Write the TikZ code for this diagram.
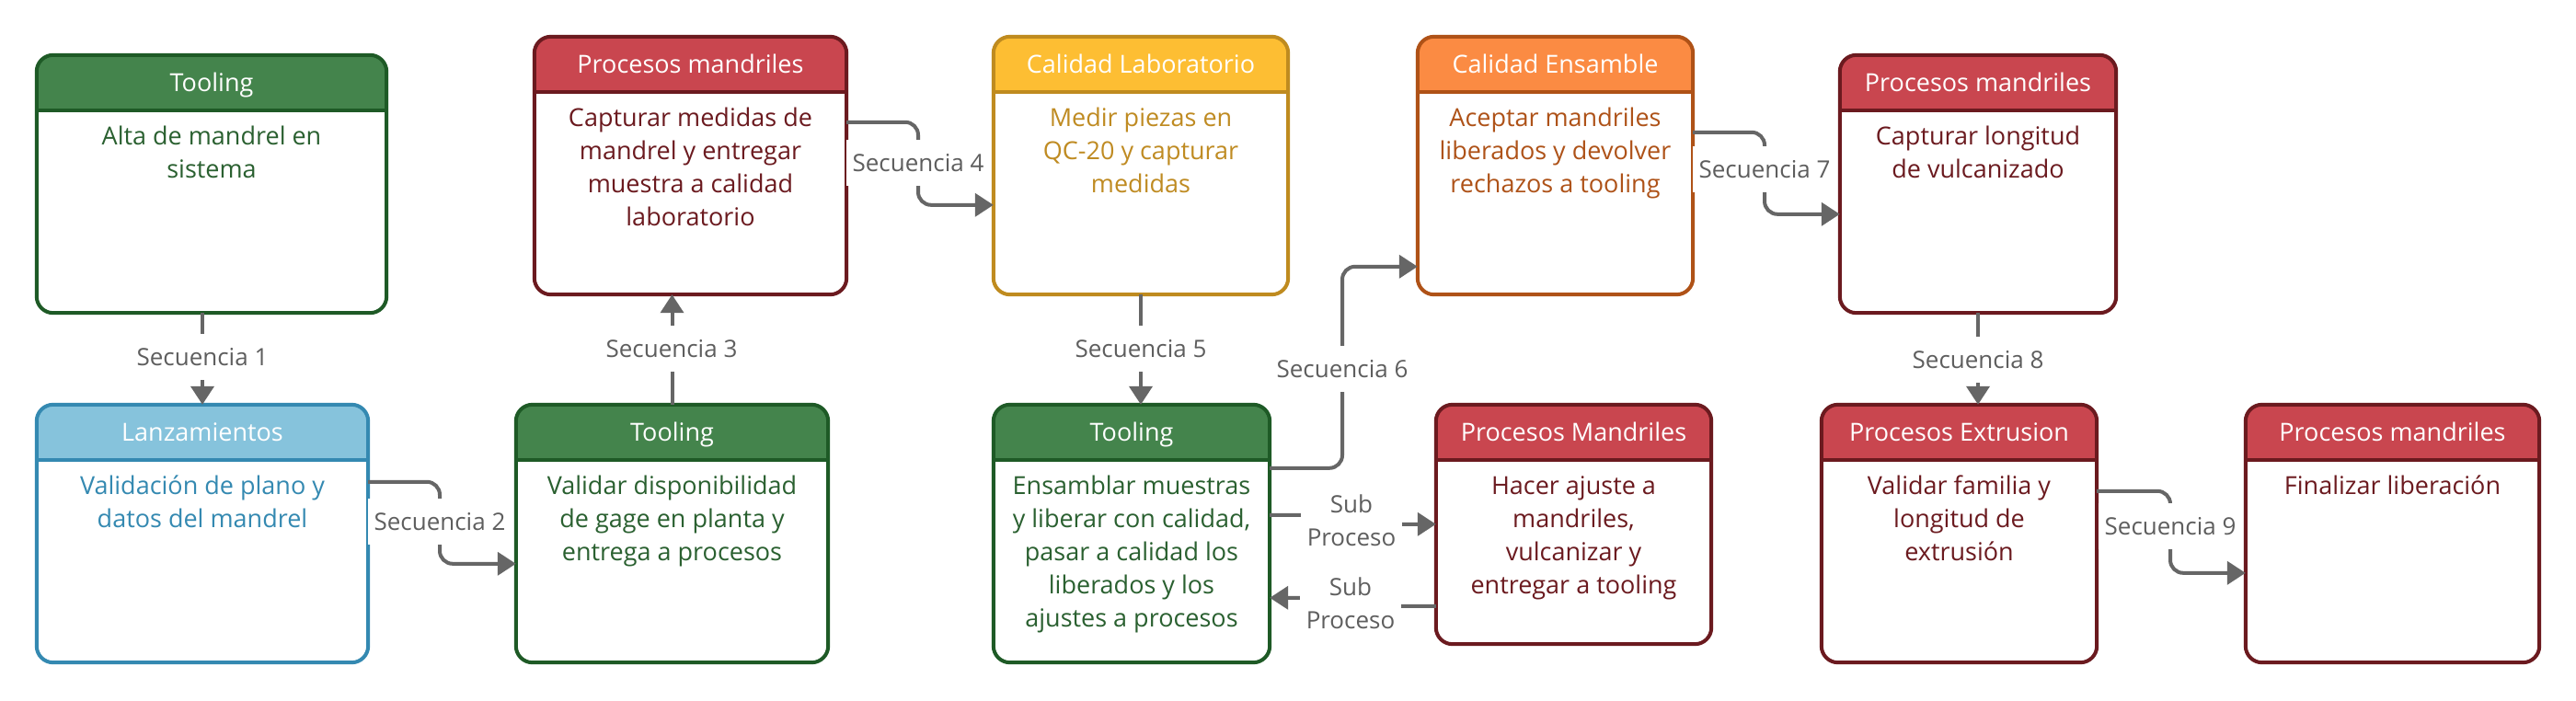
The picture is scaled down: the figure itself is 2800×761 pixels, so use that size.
\documentclass[tikz,border=0pt]{standalone}
\usepackage{fontspec}
\setmainfont{Open Sans}
\usetikzlibrary{arrows.meta,fit,calc}
\definecolor{grhd}{HTML}{44844C}\definecolor{grbd}{HTML}{1E5A26}\definecolor{grtx}{HTML}{2A6030}
\definecolor{rdhd}{HTML}{C9464F}\definecolor{rdbd}{HTML}{6B1A1F}\definecolor{rdtx}{HTML}{6B1A1F}
\definecolor{blhd}{HTML}{86C3DC}\definecolor{blbd}{HTML}{3489B1}\definecolor{bltx}{HTML}{3489B1}
\definecolor{ylhd}{HTML}{FDBE33}\definecolor{ylbd}{HTML}{BF8B1F}\definecolor{yltx}{HTML}{BF8B22}
\definecolor{orhd}{HTML}{FB8B43}\definecolor{orbd}{HTML}{AF5217}\definecolor{ortx}{HTML}{AE5218}
\definecolor{cgray}{HTML}{666666}\definecolor{lblgray}{HTML}{5E5E5E}
\tikzset{
  hdtext/.style={text=white, font=\fontsize{27pt}{36pt}\selectfont, inner sep=0pt},
  bdtext/.style={font=\fontsize{27pt}{36pt}\selectfont, align=center, inner sep=0pt},
  flow/.style={draw=cgray, line width=4pt, rounded corners=14pt, -{Triangle[length=20pt,width=25pt]}},
  lbl/.style={fill=white, text=lblgray, font=\fontsize{26pt}{36pt}\selectfont, align=center, inner xsep=7pt, inner ysep=15pt}
}
\newcommand\pbox[8]{%
  \node[fit={(#2,#3) (#4,#5)}, inner sep=0pt] (#1) {};
  \fill[white, rounded corners=18pt] (#1.south west) rectangle (#1.north east);
  \begin{scope}
    \clip[rounded corners=18pt] (#1.south west) rectangle (#1.north east);
    \fill[#6hd] (#1.north west) rectangle ([yshift=-60pt]#1.north east);
  \end{scope}
  \draw[#6bd, line width=4pt] ([yshift=-60pt]#1.north west) -- ([yshift=-60pt]#1.north east);
  \draw[#6bd, line width=4pt, rounded corners=18pt] (#1.south west) rectangle (#1.north east);
  \node[hdtext, anchor=base] (#1-h) at ([yshift=-40pt]#1.north) {#7};
  \node[bdtext, text=#6tx, anchor=north] (#1-b) at ([yshift=-72pt]#1.north) {\strut #8};
}
\begin{document}
\begin{tikzpicture}[x=1pt, y=-1pt]
\fill[white] (0,0) rectangle (2800,761);
\useasboundingbox (0,0) rectangle (2800,761);

\pbox{b1}{40}{60}{420}{340}{gr}{Tooling}{Alta de mandrel en\\sistema}
\pbox{b2}{581}{40}{920}{320}{rd}{Procesos mandriles}{Capturar medidas de\\mandrel y entregar\\muestra a calidad\\laboratorio}
\pbox{b3}{40}{440}{400}{720}{bl}{Lanzamientos}{Validación de plano y\\datos del mandrel}
\pbox{b4}{561}{440}{900}{720}{gr}{Tooling}{Validar disponibilidad\\de gage en planta y\\entrega a procesos}
\pbox{b5}{1080}{40}{1400}{320}{yl}{Calidad Laboratorio}{Medir piezas en\\QC-20 y capturar\\medidas}
\pbox{b6}{1541}{40}{1840}{320}{or}{Calidad Ensamble}{Aceptar mandriles\\liberados y devolver\\rechazos a tooling}
\pbox{b7}{1080}{440}{1380}{720}{gr}{Tooling}{Ensamblar muestras\\y liberar con calidad,\\pasar a calidad los\\liberados y los\\ajustes a procesos}
\pbox{b8}{1561}{440}{1860}{700}{rd}{Procesos Mandriles}{Hacer ajuste a\\mandriles,\\vulcanizar y\\entregar a tooling}
\pbox{b9}{2000}{60}{2300}{340}{rd}{Procesos mandriles}{Capturar longitud\\de vulcanizado}
\pbox{b10}{1980}{440}{2279}{720}{rd}{Procesos Extrusion}{Validar familia y\\longitud de\\extrusión}
\pbox{b11}{2441}{440}{2760}{720}{rd}{Procesos mandriles}{Finalizar liberación}

\coordinate (c1) at (220,388);
\coordinate (c2) at (478,567);
\coordinate (c3) at (730,379);
\coordinate (c4) at (998,177);
\coordinate (c5) at (1240,379);
\coordinate (c6) at (1459,401);
\coordinate (c7) at (1918,184);
\coordinate (c8) at (2150,391);
\coordinate (c9) at (2359,572);
\coordinate (cs1) at (1469,566);
\coordinate (cs2) at (1468,656);

\draw[flow] (b1.south -| b3.north) -- (b3.north);
\draw[flow] ([yshift=-84pt]b3.north east) -| (c2) |- ([yshift=-173pt]b4.north west);
\draw[flow] (b4.north) -- (b4.north |- b2.south);
\draw[flow] ([yshift=-93pt]b2.north east) -| (c4) |- ([yshift=-183pt]b5.north west);
\draw[flow] (b5.south) -- (b5.south |- b7.north);
\draw[flow] ([yshift=-69pt]b7.north east) -| (c6) |- ([yshift=-250pt]b6.north west);
\draw[flow] ([yshift=-104pt]b6.north east) -| (c7) |- ([yshift=-173pt]b9.north west);
\draw[flow] (b9.south) -- (b9.south |- b10.north);
\draw[flow] ([yshift=-94pt]b10.north east) -| (c9) |- ([yshift=-183pt]b11.north west);
\draw[flow, rounded corners=3pt] ([yshift=-120pt]b7.north east) -| (cs1) |- ([yshift=-130pt]b8.north west);
\draw[flow, rounded corners=3pt] ([yshift=-219pt]b8.north west) -| (cs2) |- ([yshift=-210pt]b7.north east);

\node[lbl] (l1) at (c1) {Secuencia 1};
\node[lbl] (l2) at (c2) {Secuencia 2};
\node[lbl] (l3) at (c3) {Secuencia 3};
\node[lbl] (l4) at (c4) {Secuencia 4};
\node[lbl] (l5) at (c5) {Secuencia 5};
\node[lbl] (l6) at (c6) {Secuencia 6};
\node[lbl] (l7) at (c7) {Secuencia 7};
\node[lbl] (l8) at (c8) {Secuencia 8};
\node[lbl] (l9) at (c9) {Secuencia 9};
\node[lbl] (ls1) at (cs1) {Sub\\Proceso};
\node[lbl] (ls2) at (cs2) {Sub\\Proceso};
\end{tikzpicture}
\end{document}
